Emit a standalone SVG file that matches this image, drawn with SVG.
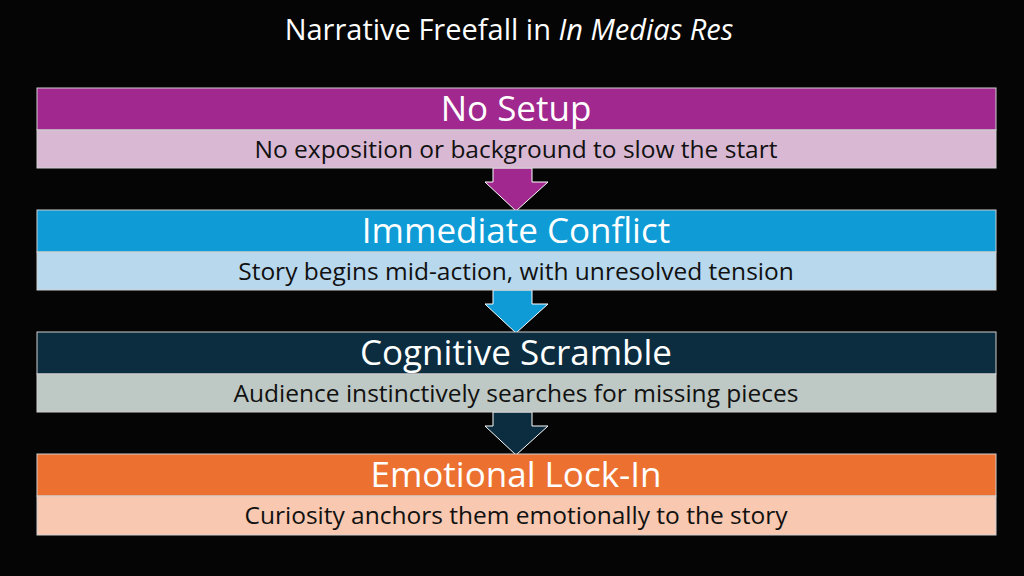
<svg xmlns="http://www.w3.org/2000/svg" width="1024" height="576" viewBox="0 0 1024 576">
<style>
text{font-family:"Open Sans","Noto Sans",sans-serif;text-anchor:middle}
.h{font-size:35px;fill:#fff}
.s{font-size:24.5px;fill:#111}
.b{stroke:#d0d0d0;stroke-width:1}
.a{stroke:#fff;stroke-width:1}
</style>
<rect width="1024" height="576" fill="#050505"/>
<text x="509" y="40" style="font-size:29px;fill:#fff">Narrative Freefall in <tspan font-style="italic">In Medias Res</tspan></text>
<g id="connectors">
<path class="a" fill="#A0288E" d="M493 168H532V182H548L516 211L485 182H493Z"/>
<path class="a" fill="#0E9BD6" d="M493 290H532V304H548L516 333L485 304H493Z"/>
<path class="a" fill="#0C2D3F" d="M493 412H532V426H548L516 455L485 426H493Z"/>
</g>
<g id="n1"><rect class="b" x="37" y="88" width="959" height="42" fill="#A0288E"/><rect class="b" x="37" y="130" width="959" height="38" fill="#D9B8D4"/><text class="h" x="516" y="121">No Setup</text><text class="s" x="516" y="158">No exposition or background to slow the start</text></g>
<g id="n2"><rect class="b" x="37" y="210" width="959" height="42" fill="#0E9BD6"/><rect class="b" x="37" y="252" width="959" height="38" fill="#B8D8EE"/><text class="h" x="516" y="243">Immediate Conflict</text><text class="s" x="516" y="280">Story begins mid-action, with unresolved tension</text></g>
<g id="n3"><rect class="b" x="37" y="332" width="959" height="42" fill="#0C2D3F"/><rect class="b" x="37" y="374" width="959" height="38" fill="#BEC8C4"/><text class="h" x="516" y="365">Cognitive Scramble</text><text class="s" x="516" y="402">Audience instinctively searches for missing pieces</text></g>
<g id="n4"><rect class="b" x="37" y="454" width="959" height="42" fill="#EC7030"/><rect class="b" x="37" y="496" width="959" height="39" fill="#F8C8B0"/><text class="h" x="516" y="487">Emotional Lock-In</text><text class="s" x="516" y="524">Curiosity anchors them emotionally to the story</text></g>
</svg>
